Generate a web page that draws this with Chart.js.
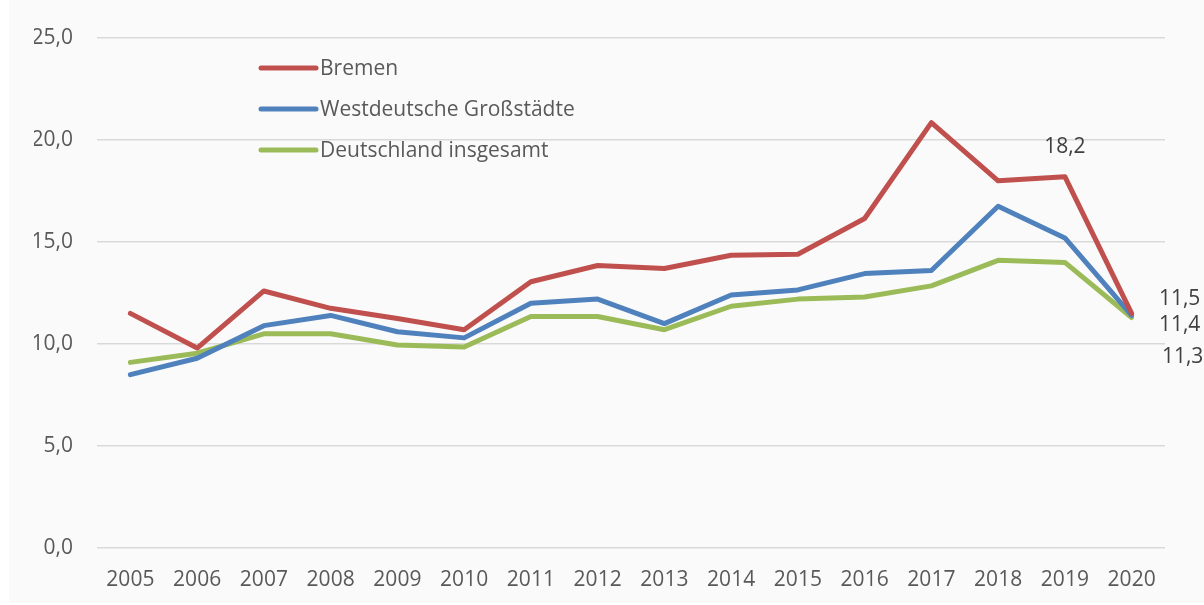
<!DOCTYPE html>
<html>
<head>
<meta charset="utf-8">
<script src="https://cdn.jsdelivr.net/npm/chart.js@4/dist/chart.umd.min.js"></script>
<style>
html,body{margin:0;padding:0;background:#ffffff;}
#wrap{width:1204px;height:605px;}
</style>
</head>
<body>
<div id="wrap"><canvas id="grafico" width="1204" height="605"></canvas></div>
<script>
const jahre = ['2005','2006','2007','2008','2009','2010','2011','2012','2013','2014','2015','2016','2017','2018','2019','2020'];

const bremen = [11.5, 9.8, 12.6, 11.75, 11.25, 10.7, 13.05, 13.85, 13.7, 14.35, 14.4, 16.15, 20.85, 18.0, 18.2, 11.5];

const grossstaedte = [8.5, 9.3, 10.9, 11.4, 10.6, 10.3, 12.0, 12.2, 11.0, 12.4, 12.65, 13.45, 13.6, 16.75, 15.2, 11.4];

const deutschland = [9.1, 9.55, 10.5, 10.5, 9.95, 9.85, 11.35, 11.35, 10.7, 11.85, 12.2, 12.3, 12.85, 14.1, 14.0, 11.3];

const yTicks = [0, 5, 10, 15, 20, 25];

const schrift = '"Open Sans", "DejaVu Sans", sans-serif';

function komma(v){
return v.toFixed(1).replace('.', ',');
}

// hintergrund
const hintergrund = {
id:'hintergrund',
beforeDraw(chart){
const c = chart.ctx;
c.save();
c.fillStyle = '#fafafa';
c.fillRect(9, 0, chart.width - 9, chart.height - 2);
c.restore();
}
};

// legende innerhalb der zeichenflaeche
const legende = {
id:'legende',
afterDraw(chart, args, opts){
const c = chart.ctx;
c.save();
c.font = '21px ' + schrift;
c.textBaseline = 'middle';
chart.data.datasets.forEach((ds, i) => {
const y = opts.y + i * opts.abstand;
c.strokeStyle = ds.borderColor;
c.lineWidth = 5;
c.lineCap = 'round';
c.beginPath();
c.moveTo(opts.x, y);
c.lineTo(opts.x + 55, y);
c.stroke();
c.fillStyle = '#595959';
c.fillText(ds.label, opts.x + 59, y + 1);
});
c.restore();
}
};

// datenbeschriftungen
const beschriftung = {
id:'beschriftung',
afterDatasetsDraw(chart, args, opts){
const c = chart.ctx;
c.save();
c.font = '21px ' + schrift;
c.fillStyle = '#404040';
c.textAlign = 'center';
c.textBaseline = 'middle';
opts.punkte.forEach(p => {
const el = chart.getDatasetMeta(p.ds).data[p.idx];
const wert = chart.data.datasets[p.ds].data[p.idx];
c.fillText(komma(wert), el.x + p.dx, el.y + p.dy);
});
c.restore();
}
};

const ctx = document.getElementById('grafico');

new Chart(ctx, {
type:'line',
data:{
labels:jahre,
datasets:[
{label:'Bremen', data:bremen, borderColor:'#c0504d'},
{label:'Westdeutsche Großstädte', data:grossstaedte, borderColor:'#4f81bd'},
{label:'Deutschland insgesamt', data:deutschland, borderColor:'#9bbb59'}
].map(d => Object.assign(d, {
borderWidth:5,
pointRadius:0,
borderJoinStyle:'round',
borderCapStyle:'round',
tension:0,
fill:false
}))
},
plugins:[hintergrund, legende, beschriftung],
options:{
responsive:false,
animation:false,
layout:{
padding:{left:34, right:39, top:38, bottom:12}
},
scales:{
x:{
offset:true,
afterFit(axis){ axis.height = 45; },
grid:{display:false, drawTicks:false},
border:{display:false},
ticks:{
color:'#595959',
font:{family:schrift, size:21},
padding:19,
maxRotation:0,
autoSkip:false
}
},
y:{
min:0,
max:25,
afterFit(axis){ axis.width = 63; },
afterBuildTicks(axis){
axis.ticks = yTicks.map(v => ({value:v}));
},
grid:{color:'#d9d9d9', lineWidth:1.5, drawTicks:false},
border:{display:false},
ticks:{
color:'#595959',
font:{family:schrift, size:21},
padding:24,
callback:v => komma(v)
}
}
},
plugins:{
legend:{display:false},
tooltip:{enabled:false},
legende:{x:261, y:68, abstand:41},
beschriftung:{
punkte:[
{ds:0, idx:14, dx:0, dy:-30},
{ds:0, idx:15, dx:48, dy:-14},
{ds:1, idx:15, dx:48, dy:10},
{ds:2, idx:15, dx:51, dy:40}
]
}
}
}
});
</script>
</body>
</html>
